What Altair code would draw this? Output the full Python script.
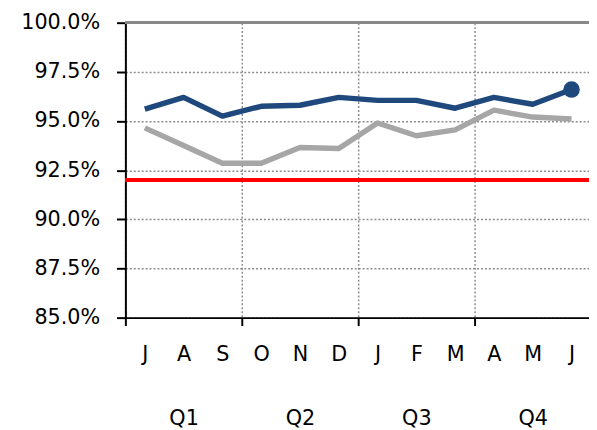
import json
import altair as alt
import pandas as pd

months = ["J", "A", "S", "O", "N", "D", "J", "F", "M", "A", "M", "J"]
quarters = ["Q1", "Q2", "Q3", "Q4"]
blue_vals = [95.6, 96.2, 95.25, 95.75, 95.8, 96.2, 96.05, 96.05, 95.65, 96.2, 95.85, 96.6]
gray_vals = [94.65, 93.75, 92.85, 92.85, 93.65, 93.6, 94.9, 94.25, 94.55, 95.55, 95.2, 95.1]
target = 92.0
y_ticks = [85.0, 87.5, 90.0, 92.5, 95.0, 97.5, 100.0]

BLUE = "#1F497D"
GRAY = "#A6A6A6"
RED = "#FF0000"
FONT = "DejaVu Sans"

df = pd.DataFrame({
    "pos": [i + 0.5 for i in range(len(months))],
    "month": months,
    "blue": blue_vals,
    "gray": gray_vals,
})
last = df.tail(1)

xscale = alt.Scale(domain=[0, 11.95], nice=False, zero=False)
yscale = alt.Scale(domain=[85, 100], nice=False, zero=False)

y_axis = alt.Axis(
    values=y_ticks, title=None,
    labelExpr="format(datum.value, '.1f') + '%'",
    domainColor="black", domainWidth=2,
    tickColor="black", tickWidth=2, tickSize=9,
    grid=True, gridColor="#8c8c8c", gridDash=[2, 2], gridWidth=1.5,
    labelPadding=17,
)

x_main_axis = alt.Axis(
    orient="bottom", values=[0, 3, 6, 9], labels=False, title=None,
    domainColor="black", domainWidth=2,
    tickColor="black", tickWidth=2, tickSize=8,
    grid=True, gridColor="#8c8c8c", gridDash=[2, 2], gridWidth=1.5,
)

month_expr = json.dumps(months) + "[floor(datum.value)]"
x_month_axis = alt.Axis(
    orient="bottom", values=[i + 0.5 for i in range(len(months))],
    labelExpr=month_expr, title=None, ticks=False, domain=False, grid=False,
    labelPadding=26, labelAngle=0, labelOverlap=False, labelFlush=False,
)

quarter_expr = json.dumps(quarters) + "[floor(datum.value / 3)]"
x_quarter_axis = alt.Axis(
    orient="bottom", values=[1.5, 4.5, 7.5, 10.5],
    labelExpr=quarter_expr, title=None, ticks=False, domain=False, grid=False,
    labelPadding=91, labelAngle=0, labelOverlap=False, labelFlush=False,
)

top_rule = alt.Chart(df).mark_rule(color="#888888", strokeWidth=2).encode(
    y=alt.YDatum(100, type="quantitative", scale=yscale, axis=y_axis)
)

red_rule = alt.Chart(df).mark_rule(color=RED, strokeWidth=3).encode(
    y=alt.YDatum(target, type="quantitative", scale=yscale, axis=y_axis)
)

gray_line = alt.Chart(df).mark_line(color=GRAY, strokeWidth=5.5, strokeJoin="round").encode(
    x=alt.X("pos:Q", scale=xscale, axis=x_month_axis),
    y=alt.Y("gray:Q", scale=yscale, axis=y_axis),
)

blue_line = alt.Chart(df).mark_line(color=BLUE, strokeWidth=5.5, strokeJoin="round").encode(
    x=alt.X("pos:Q", scale=xscale, axis=x_main_axis),
    y=alt.Y("blue:Q", scale=yscale, axis=y_axis),
)

blue_point = alt.Chart(last).mark_circle(color=BLUE, size=280, opacity=1).encode(
    x=alt.X("pos:Q", scale=xscale, axis=x_quarter_axis),
    y=alt.Y("blue:Q", scale=yscale, axis=y_axis),
)

chart = (
    alt.layer(top_rule, red_rule, gray_line, blue_line, blue_point)
    .resolve_axis(x="independent", y="shared")
    .properties(
        width=470, height=299,
        autosize=alt.AutoSizeParams(type="none"),
        padding={"left": 119, "top": 12, "right": 0, "bottom": 110},
    )
    .configure_view(strokeWidth=0)
    .configure_axis(labelFont=FONT, labelFontSize=21, labelColor="black")
)

chart.save("out.html", embed_options={"renderer": "svg", "actions": False})
